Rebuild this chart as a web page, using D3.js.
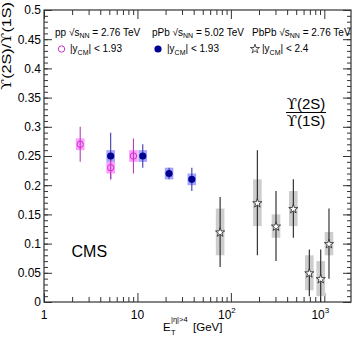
<!DOCTYPE html>
<html lang="en">
<head>
<meta charset="UTF-8" />
<title>Upsilon ratio vs forward transverse energy</title>
<script src="https://cdn.jsdelivr.net/npm/d3@7/dist/d3.min.js"></script>
<style>
  body { margin: 0; background: #fff; }
  svg { font-family: "Liberation Sans", Arial, sans-serif; }
  .tick line { stroke: #333; }
</style>
</head>
<body>
<svg id="chart" width="357" height="343"></svg>
<script>
// pp 2.76 TeV, |y_CM| < 1.93
const ppX = [2.44, 5.17, 9.06];
const ppY = [0.27, 0.23, 0.25];
const ppStat = [0.03, 0.02, 0.03];
const ppSys = [0.01, 0.01, 0.01];
// pPb 5.02 TeV, |y_CM| < 1.93
const pPbX = [5.17, 11.4, 21.8, 38.2];
const pPbY = [0.25, 0.25, 0.22, 0.21];
const pPbStat = [0.04, 0.02, 0.01, 0.02];
const pPbSys = [0.01, 0.01, 0.01, 0.01];
// PbPb 2.76 TeV, |y_CM| < 2.4
const PbPbX = [76.7, 192, 304, 466, 691, 915, 1122];
const PbPbY = [0.12, 0.17, 0.13, 0.16, 0.05, 0.04, 0.10];
const PbPbStat = [0.06, 0.09, 0.06, 0.05, 0.04, 0.05, 0.06];
const PbPbSys = [0.04, 0.04, 0.02, 0.03, 0.03, 0.03, 0.02];

const yTicks = [0, 0.05, 0.1, 0.15, 0.2, 0.25, 0.3, 0.35, 0.4, 0.45, 0.5];
const xTicks = [1, 10, 100, 1000];
const xTickBase = ["1", "10", "10", "10"];
const xTickExp = ["", "", "2", "3"];

const legendSystems = ["pp", "pPb", "PbPb"];
const legendEnergies = ["2.76", "5.02", "2.76"];
const legendRapidity = ["1.93", "1.93", "2.4"];

const fLeft = 44, fRight = 351, fTop = 10, fBottom = 302;
const svg = d3.select("#chart");

const x = d3.scaleLog().domain([1, 1930]).range([fLeft, fRight]);
const y = d3.scaleLinear().domain([0, 0.5]).range([fBottom, fTop]);

// minor tick positions
const yMinor = d3.range(0, 0.5001, 0.01);
const xMinor = [];
[1, 10, 100, 1000].forEach(dec => {
  for (let k = 2; k <= 9; k++) if (dec * k < 1930) xMinor.push(dec * k);
});

function axisGroup(axis, tr) {
  const g = svg.append("g").attr("transform", tr).call(axis);
  g.select(".domain").remove();
  return g;
}

// left
axisGroup(d3.axisLeft(y).tickValues(yMinor).tickSize(-4).tickFormat(""), `translate(${fLeft},0)`);
axisGroup(d3.axisLeft(y).tickValues(yTicks).tickSize(-8).tickPadding(3).tickFormat(d => String(d)), `translate(${fLeft},0)`)
  .selectAll("text").attr("font-size", 12).attr("fill", "#000").attr("font-family", "Liberation Sans, Arial, sans-serif");
// right
axisGroup(d3.axisRight(y).tickValues(yMinor).tickSize(-4).tickFormat(""), `translate(${fRight},0)`);
axisGroup(d3.axisRight(y).tickValues(yTicks).tickSize(-8).tickFormat(""), `translate(${fRight},0)`);
// bottom
axisGroup(d3.axisBottom(x).tickValues(xMinor).tickSize(-5).tickFormat(""), `translate(0,${fBottom})`);
axisGroup(d3.axisBottom(x).tickValues(xTicks).tickSize(-9).tickFormat(""), `translate(0,${fBottom})`);
// top
axisGroup(d3.axisTop(x).tickValues(xMinor).tickSize(-5).tickFormat(""), `translate(0,${fTop})`);
axisGroup(d3.axisTop(x).tickValues(xTicks).tickSize(-9).tickFormat(""), `translate(0,${fTop})`);

// x tick labels with exponents
xTicks.forEach((v, i) => {
  const t = svg.append("text")
    .attr("x", xTickExp[i] ? x(v) - 4 : x(v))
    .attr("y", 319)
    .attr("text-anchor", "middle")
    .attr("font-size", 12)
    .text(xTickBase[i]);
  if (xTickExp[i]) {
    t.append("tspan").attr("dy", -6).attr("font-size", 8).text(xTickExp[i]);
  }
});

// frame
svg.append("rect")
  .attr("x", fLeft).attr("y", fTop)
  .attr("width", fRight - fLeft).attr("height", fBottom - fTop)
  .attr("fill", "none").attr("stroke", "#333").attr("stroke-width", 1.2);

// axis titles
const yt = svg.append("text")
  .attr("transform", "translate(10.5,46) rotate(-90)")
  .attr("text-anchor", "middle")
  .attr("font-size", 12)
  .attr("textLength", 88)
  .attr("lengthAdjust", "spacingAndGlyphs");
yt.append("tspan").attr("font-family", "DejaVu Serif, serif").text("ϒ");
yt.append("tspan").text("(2S)/");
yt.append("tspan").attr("font-family", "DejaVu Serif, serif").text("ϒ");
yt.append("tspan").text("(1S)");

const xt = svg.append("g").attr("font-size", 11.5);
xt.append("text").attr("x", 163).attr("y", 331).text("E");
xt.append("text").attr("x", 171).attr("y", 335).attr("font-size", 7.5).text("T");
xt.append("text").attr("x", 171).attr("y", 322).attr("font-size", 7.5).text("|η|>4");
xt.append("text").attr("x", 193).attr("y", 331).text("[GeV]");

// clip region for error bars
svg.append("clipPath").attr("id", "frame")
  .append("rect").attr("x", fLeft).attr("y", fTop)
  .attr("width", fRight - fLeft).attr("height", fBottom - fTop);
const plot = svg.append("g").attr("clip-path", "url(#frame)");

function series(xs, ys, stat, sys, boxFill, lineColor) {
  const data = xs.map((d, i) => ({ x: d, y: ys[i], stat: stat[i], sys: sys[i] }));
  plot.append("g").selectAll("rect").data(data).join("rect")
    .attr("x", d => x(d.x) - 4.3)
    .attr("width", 8.6)
    .attr("y", d => y(d.y + d.sys))
    .attr("height", d => y(d.y - d.sys) - y(d.y + d.sys))
    .attr("fill", boxFill);
  plot.append("g").selectAll("line").data(data).join("line")
    .attr("x1", d => x(d.x)).attr("x2", d => x(d.x))
    .attr("y1", d => y(d.y + d.stat)).attr("y2", d => y(d.y - d.stat))
    .attr("stroke", lineColor).attr("stroke-width", 1.1);
  return data;
}

const pPbData = series(pPbX, pPbY, pPbStat, pPbSys, "#a4a4ff", "#3a3aa8");
const ppData = series(ppX, ppY, ppStat, ppSys, "#ff9cff", "#b83cb8");
const PbPbData = series(PbPbX, PbPbY, PbPbStat, PbPbSys, "#cdcdcd", "#222");

const star = d3.symbol().type(d3.symbolStar).size(26);

plot.append("g").selectAll("circle").data(pPbData).join("circle")
  .attr("cx", d => x(d.x)).attr("cy", d => y(d.y)).attr("r", 3.6)
  .attr("fill", "#000090");
plot.append("g").selectAll("circle").data(ppData).join("circle")
  .attr("cx", d => x(d.x)).attr("cy", d => y(d.y)).attr("r", 3.2)
  .attr("fill", "none").attr("stroke", "#cc33cc").attr("stroke-width", 1);
plot.append("g").selectAll("path").data(PbPbData).join("path")
  .attr("transform", d => `translate(${x(d.x)},${y(d.y) + 0.5})`)
  .attr("d", star)
  .attr("fill", "#fff").attr("stroke", "#222").attr("stroke-width", 0.8);

// legend
const legX = [55, 152, 252];
const leg = svg.append("g").attr("font-size", 10);
legendSystems.forEach((s, i) => {
  const t = leg.append("text").attr("x", legX[i]).attr("y", 36);
  t.append("tspan").text(s + " √");
  t.append("tspan").text("s");
  t.append("tspan").attr("dy", 2).attr("font-size", 7).text("NN");
  t.append("tspan").attr("dy", -2).text(" = " + legendEnergies[i] + " TeV");

  const r = leg.append("text").attr("x", legX[i] + (i === 2 ? 10 : 15)).attr("y", 52);
  r.append("tspan").text("|y");
  r.append("tspan").attr("dy", 2.5).attr("font-size", 7).text("CM");
  r.append("tspan").attr("dy", -2.5).text("| < " + legendRapidity[i]);
});
leg.append("circle").attr("cx", legX[0] + 6.5).attr("cy", 49).attr("r", 3.2)
  .attr("fill", "none").attr("stroke", "#cc33cc");
leg.append("circle").attr("cx", legX[1] + 6).attr("cy", 49).attr("r", 3.6)
  .attr("fill", "#000090");
leg.append("path").attr("transform", `translate(${legX[2] + 3},49)`)
  .attr("d", star).attr("fill", "#fff").attr("stroke", "#222").attr("stroke-width", 0.8);

// annotations
svg.append("text").attr("x", 71.5).attr("y", 257).attr("font-size", 16).text("CMS");

const frac = svg.append("g").attr("font-size", 15).attr("text-anchor", "middle");
const num = frac.append("text").attr("x", 306).attr("y", 109);
num.append("tspan").attr("font-family", "DejaVu Serif, serif").text("ϒ");
num.append("tspan").text("(2S)");
frac.append("line").attr("x1", 286).attr("x2", 326).attr("y1", 112.5).attr("y2", 112.5)
  .attr("stroke", "#000").attr("stroke-width", 1);
const den = frac.append("text").attr("x", 306).attr("y", 126);
den.append("tspan").attr("font-family", "DejaVu Serif, serif").text("ϒ");
den.append("tspan").text("(1S)");
</script>
</body>
</html>
